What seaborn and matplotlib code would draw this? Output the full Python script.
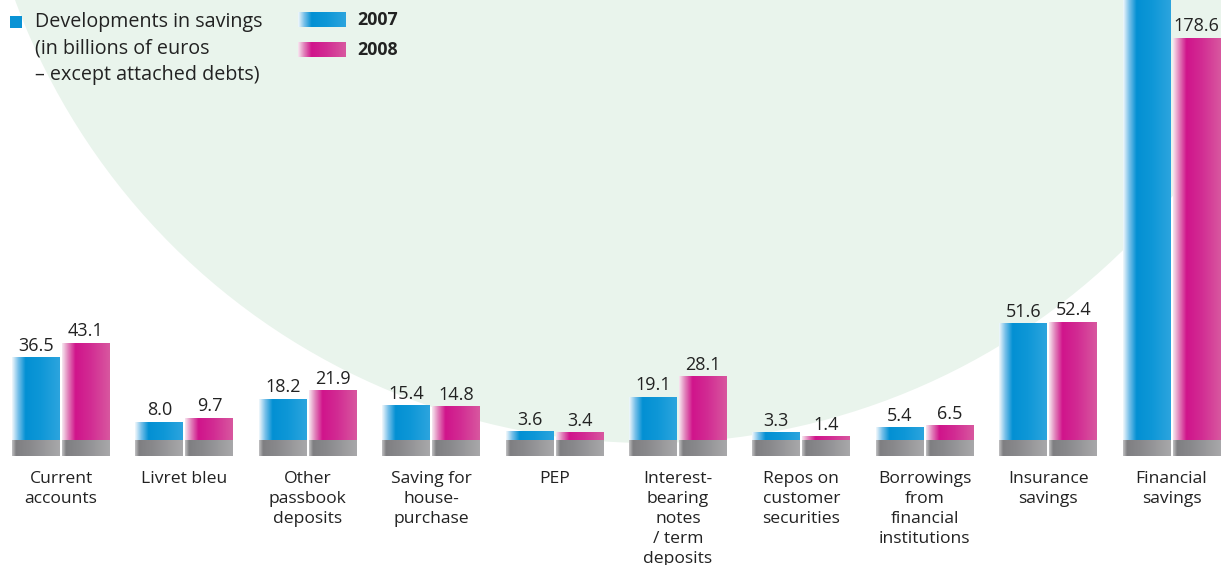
import numpy as np
import pandas as pd
import matplotlib
matplotlib.use("Agg")
import matplotlib.pyplot as plt
from matplotlib.patches import Ellipse, Rectangle
from matplotlib.colors import to_rgb
import seaborn as sns

categories = ["Current\naccounts", "Livret bleu", "Other\npassbook\ndeposits",
              "Saving for\nhouse-\npurchase", "PEP", "Interest-\nbearing\nnotes\n/ term\ndeposits",
              "Repos on\ncustomer\nsecurities", "Borrowings\nfrom\nfinancial\ninstitutions",
              "Insurance\nsavings", "Financial\nsavings"]
values_2007 = [36.5, 8.0, 18.2, 15.4, 3.6, 19.1, 3.3, 5.4, 51.6, 205.0]
values_2008 = [43.1, 9.7, 21.9, 14.8, 3.4, 28.1, 1.4, 6.5, 52.4, 178.6]
years = ["2007", "2008"]

df = pd.DataFrame({
    "category": categories * 2,
    "year": [years[0]] * len(categories) + [years[1]] * len(categories),
    "value": values_2007 + values_2008,
})

sns.set_theme(style="white")
plt.rcParams["font.family"] = ["Open Sans", "DejaVu Sans"]

W, H = 1221, 565
fig = plt.figure(figsize=(W / 100, H / 100), dpi=100)
fig.patch.set_facecolor("white")

# pale green circle in background
cx, cy, r = 650, -233.6, 676.6
fig.patches.append(Ellipse((cx / W, 1 - cy / H), 2 * r / W, 2 * r / H,
                           transform=fig.transFigure, facecolor="#e9f4ec",
                           edgecolor="none", zorder=-5))

ax_bottom_px = 456
ax = fig.add_axes([0, (H - ax_bottom_px) / H, 1, ax_bottom_px / H])
ax.patch.set_alpha(0)
ax.set_zorder(2)

palette = {"2007": "#0a93d5", "2008": "#d0198c"}
sns.barplot(data=df, x="category", y="value", hue="year", hue_order=years,
            order=categories, palette=palette, width=0.81, gap=0.04,
            legend=False, ax=ax, linewidth=0)

px_per_unit = 2.25
ybot = -16 / px_per_unit
ytop = 440 / px_per_unit
xlim = (-61 / 123.4, (W - 61) / 123.4)


def grad(stops, n=64):
    xs = np.linspace(0, 1, n)
    pos = [s[0] for s in stops]
    cols = np.array([to_rgb(s[1]) for s in stops])
    arr = np.stack([np.interp(xs, pos, cols[:, k]) for k in range(3)], axis=-1)
    return arr[np.newaxis, :, :]


grad_map = {
    "2007": grad([(0, "#eef6fb"), (0.12, "#7cc2ea"), (0.28, "#0390d3"), (0.6, "#0e97d7"), (1, "#2ca4de")]),
    "2008": grad([(0, "#f6e3ee"), (0.12, "#e283bb"), (0.28, "#d0148b"), (0.6, "#d22c93"), (1, "#d8579f")]),
}
grey_grad = grad([(0, "#bdbdbf"), (0.08, "#7f7f82"), (0.4, "#8a8a8d"), (1, "#a8a8aa")])

for year, cont in zip(years, ax.containers):
    for p in cont.patches:
        x0, w, h = p.get_x(), p.get_width(), p.get_height()
        p.set_alpha(0)
        ax.imshow(grad_map[year], extent=[x0, x0 + w, 0, h], aspect="auto",
                  interpolation="bilinear", zorder=2)
        ax.imshow(grey_grad, extent=[x0, x0 + w, ybot, 0], aspect="auto",
                  interpolation="bilinear", zorder=2)
    ax.bar_label(cont, fmt="%.1f", padding=2, fontsize=13, color="#222222")

ax.set_xlim(*xlim)
ax.set_ylim(ybot, ytop)
ax.set_xlabel("")
ax.set_ylabel("")
ax.set_yticks([])
ax.tick_params(axis="x", length=0, pad=11)
ax.set_xticks(range(len(categories)))
ax.set_xticklabels(categories, fontsize=12.6, color="#222222", linespacing=1.33)
for s in ax.spines.values():
    s.set_visible(False)

# legend / title block
fig.patches.append(Rectangle((10 / W, 1 - 28 / H), 12 / W, 12 / H,
                             transform=fig.transFigure, facecolor="#0a93d5",
                             edgecolor="none", zorder=1))
fig.text(35 / W, 1 - 12 / H, "Developments in savings\n(in billions of euros\n– except attached debts)",
         fontsize=14.2, color="#222222", va="top", ha="left", linespacing=1.42)

for i, year in enumerate(years):
    y0 = 12 + 30 * i
    sax = fig.add_axes([298 / W, 1 - (y0 + 15) / H, 48 / W, 15 / H])
    sax.set_zorder(3)
    sax.imshow(grad_map[year], aspect="auto", interpolation="bilinear")
    sax.axis("off")
    fig.text(357 / W, 1 - (y0 + 8) / H, year, fontsize=12.8, fontweight="bold",
             color="#222222", va="center", ha="left")

fig.savefig("out.png", dpi=100)
